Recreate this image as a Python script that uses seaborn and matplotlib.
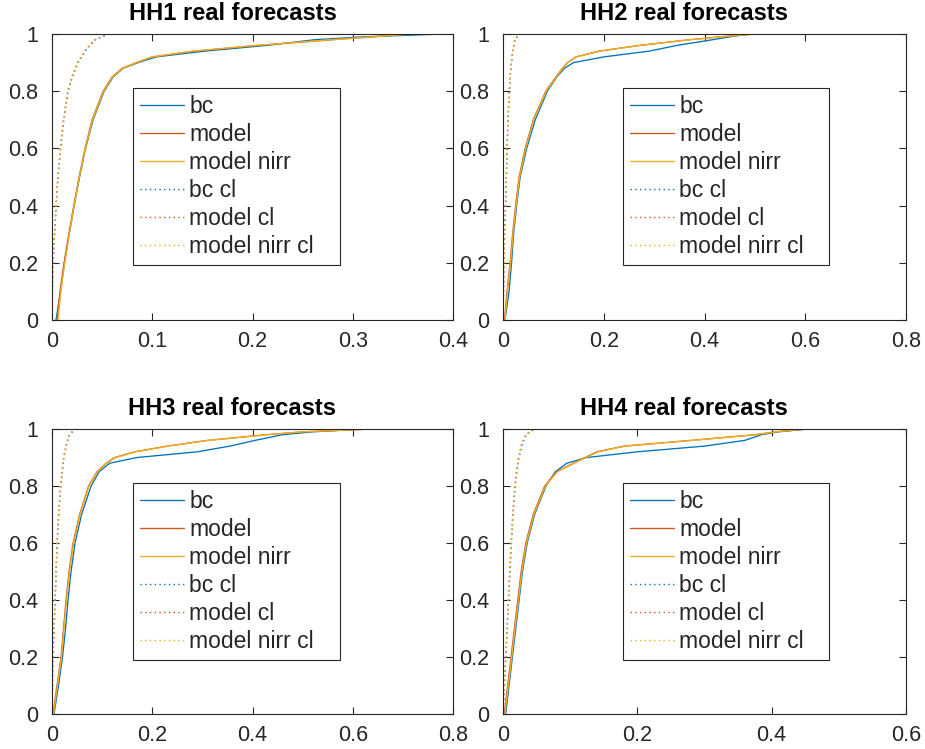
import matplotlib
matplotlib.use("Agg")
import matplotlib.pyplot as plt
import seaborn as sns
import pandas as pd

# ---------------- data ----------------
series_names = ["bc", "model", "model nirr", "bc cl", "model cl", "model nirr cl"]
titles = ["HH1 real forecasts", "HH2 real forecasts", "HH3 real forecasts", "HH4 real forecasts"]

# cumulative levels (shared by the solid curves of a panel) and dotted curves
y_solid = [0, 0.1, 0.2, 0.3, 0.4, 0.5, 0.6, 0.7, 0.8, 0.85, 0.88, 0.9, 0.92, 0.94, 0.96, 0.98, 0.99, 1.0, 1.0]
y_dot = [0, 0.1, 0.2, 0.3, 0.4, 0.5, 0.6, 0.7, 0.8, 0.85, 0.9, 0.95, 0.98, 1.0]

# HH1
hh1_bc = [0.004, 0.0085, 0.0125, 0.0172, 0.0222, 0.0275, 0.0335, 0.041, 0.052, 0.061, 0.071, 0.086, 0.104, 0.152, 0.214, 0.262, 0.31, 0.39, 0.39]
hh1_model = [0.005, 0.008, 0.012, 0.0167, 0.0217, 0.027, 0.033, 0.040, 0.051, 0.060, 0.070, 0.084, 0.100, 0.142, 0.205, 0.28, 0.32, 0.36, 0.37]
hh1_nirr = [0.006, 0.0088, 0.0127, 0.0172, 0.022, 0.0273, 0.0333, 0.0405, 0.0515, 0.0605, 0.0705, 0.0845, 0.100, 0.140, 0.203, 0.278, 0.32, 0.358, 0.368]
hh1_bc_cl = [0, 0.0003, 0.001, 0.0026, 0.0042, 0.006, 0.0087, 0.0118, 0.0162, 0.0203, 0.0262, 0.0352, 0.0435, 0.056]
hh1_model_cl = [0, 0.0003, 0.0009, 0.0025, 0.004, 0.0058, 0.0084, 0.0114, 0.0157, 0.0197, 0.0255, 0.0345, 0.043, 0.055]
hh1_nirr_cl = [0, 0.0004, 0.0010, 0.0025, 0.0041, 0.0059, 0.0085, 0.0115, 0.0158, 0.0198, 0.0256, 0.0346, 0.0432, 0.0555]

# HH2
hh2_bc = [0.004, 0.012, 0.017, 0.021, 0.027, 0.034, 0.047, 0.064, 0.088, 0.107, 0.122, 0.14, 0.20, 0.29, 0.345, 0.416, 0.45, 0.49, 0.49]
hh2_model = [0.003, 0.008, 0.014, 0.019, 0.025, 0.032, 0.044, 0.060, 0.085, 0.105, 0.118, 0.128, 0.145, 0.19, 0.27, 0.37, 0.43, 0.50, 0.62]
hh2_nirr = [0.004, 0.009, 0.015, 0.020, 0.026, 0.033, 0.045, 0.061, 0.086, 0.106, 0.119, 0.129, 0.146, 0.192, 0.272, 0.372, 0.432, 0.50, 0.62]
hh2_bc_cl = [0, 0.001, 0.002, 0.0032, 0.0052, 0.0068, 0.0083, 0.0101, 0.0128, 0.0143, 0.0168, 0.0205, 0.0245, 0.031]
hh2_model_cl = [0, 0.001, 0.002, 0.003, 0.005, 0.0065, 0.008, 0.0098, 0.0125, 0.014, 0.0165, 0.020, 0.024, 0.030]
hh2_nirr_cl = [0, 0.0011, 0.0021, 0.0031, 0.0051, 0.0066, 0.0081, 0.0099, 0.0126, 0.0141, 0.0166, 0.0202, 0.0242, 0.0302]

# HH3
hh3_bc = [0.004, 0.013, 0.021, 0.027, 0.032, 0.038, 0.046, 0.059, 0.078, 0.094, 0.115, 0.17, 0.29, 0.355, 0.405, 0.46, 0.52, 0.62, 0.62]
hh3_model = [0.002, 0.010, 0.018, 0.023, 0.028, 0.034, 0.042, 0.055, 0.073, 0.090, 0.108, 0.125, 0.165, 0.23, 0.31, 0.427, 0.50, 0.64, 0.707]
hh3_nirr = [0.003, 0.011, 0.019, 0.024, 0.029, 0.035, 0.043, 0.056, 0.074, 0.091, 0.109, 0.127, 0.167, 0.232, 0.312, 0.43, 0.50, 0.64, 0.70]
hh3_bc_cl = [0, 0.0009, 0.0017, 0.0042, 0.0063, 0.0083, 0.0104, 0.0135, 0.0176, 0.0206, 0.0237, 0.0298, 0.035, 0.046]
hh3_model_cl = [0, 0.0008, 0.0015, 0.004, 0.006, 0.008, 0.010, 0.013, 0.017, 0.020, 0.023, 0.029, 0.034, 0.045]
hh3_nirr_cl = [0, 0.0008, 0.0016, 0.0041, 0.0061, 0.0081, 0.0101, 0.0131, 0.0171, 0.0201, 0.0232, 0.0292, 0.0342, 0.0452]

# HH4
hh4_bc = [0.004, 0.009, 0.014, 0.019, 0.024, 0.029, 0.036, 0.047, 0.064, 0.078, 0.095, 0.125, 0.20, 0.30, 0.36, 0.385, 0.41, 0.455, 0.455]
hh4_model = [0.002, 0.007, 0.012, 0.017, 0.022, 0.027, 0.034, 0.045, 0.062, 0.080, 0.105, 0.122, 0.140, 0.18, 0.28, 0.375, 0.405, 0.45, 0.51]
hh4_nirr = [0.003, 0.008, 0.013, 0.018, 0.023, 0.028, 0.035, 0.046, 0.063, 0.081, 0.106, 0.123, 0.142, 0.182, 0.282, 0.377, 0.407, 0.45, 0.505]
hh4_bc_cl = [0, 0.0021, 0.0042, 0.0062, 0.0083, 0.0104, 0.0125, 0.0151, 0.0182, 0.0208, 0.0238, 0.029, 0.035, 0.047]
hh4_model_cl = [0, 0.002, 0.004, 0.006, 0.008, 0.010, 0.012, 0.0145, 0.0175, 0.020, 0.023, 0.028, 0.034, 0.046]
hh4_nirr_cl = [0, 0.002, 0.0041, 0.0061, 0.0081, 0.0101, 0.0121, 0.0147, 0.0177, 0.0202, 0.0232, 0.0282, 0.0342, 0.0462]

hh1_xticks = [0, 0.1, 0.2, 0.3, 0.4]
hh2_xticks = [0, 0.2, 0.4, 0.6, 0.8]
hh3_xticks = [0, 0.2, 0.4, 0.6, 0.8]
hh4_xticks = [0, 0.2, 0.4, 0.6]
yticks = [0, 0.2, 0.4, 0.6, 0.8, 1]

panels = [
    (hh1_bc, hh1_model, hh1_nirr, hh1_bc_cl, hh1_model_cl, hh1_nirr_cl, hh1_xticks),
    (hh2_bc, hh2_model, hh2_nirr, hh2_bc_cl, hh2_model_cl, hh2_nirr_cl, hh2_xticks),
    (hh3_bc, hh3_model, hh3_nirr, hh3_bc_cl, hh3_model_cl, hh3_nirr_cl, hh3_xticks),
    (hh4_bc, hh4_model, hh4_nirr, hh4_bc_cl, hh4_model_cl, hh4_nirr_cl, hh4_xticks),
]

# ---------------- style ----------------
sns.set_theme(style="white")
plt.rcParams["font.family"] = ["Liberation Sans", "DejaVu Sans"]
axc = "#262626"
colors = ["#0072BD", "#D95319", "#EDB120"]

fig = plt.figure(figsize=(9.25, 7.49), dpi=100)
W, H = 925.0, 749.0
boxes = [
    (52, 34, 453, 320),
    (503, 34, 906, 320),
    (52, 429, 453, 714),
    (503, 429, 906, 714),
]
leg_boxes = [(0.202, 0.516), (0.298, 0.511), (0.202, 0.516), (0.298, 0.511)]

for i, (box, pdata) in enumerate(zip(boxes, panels)):
    l, t, r, b = box
    ax = fig.add_axes([l / W, 1 - b / H, (r - l) / W, (b - t) / H])
    solids = pdata[:3]
    dots = pdata[3:6]
    xt = pdata[6]
    for k, xs in enumerate(solids):
        df = pd.DataFrame({"x": xs, "y": y_solid})
        sns.lineplot(data=df, x="x", y="y", ax=ax, color=colors[k], linewidth=0.95,
                     sort=False, estimator=None, label=series_names[k])
    for k, xs in enumerate(dots):
        df = pd.DataFrame({"x": xs, "y": y_dot})
        sns.lineplot(data=df, x="x", y="y", ax=ax, color=colors[k], linewidth=1.0,
                     linestyle=(0, (1, 2.4)), sort=False, estimator=None,
                     label=series_names[3 + k])
    ax.set_xlim(xt[0], xt[-1])
    ax.set_ylim(0, 1)
    ax.set_xticks(xt)
    ax.set_xticklabels([f"{v:g}" for v in xt])
    ax.set_yticks(yticks)
    ax.set_yticklabels([f"{v:g}" for v in yticks])
    ax.set_xlabel("")
    ax.set_ylabel("")
    ax.tick_params(axis="both", direction="in", length=5, width=0.8, color=axc,
                   labelsize=15.5, labelcolor=axc, top=True, right=True,
                   bottom=True, left=True)
    ax.tick_params(axis="x", pad=8)
    ax.tick_params(axis="y", pad=10)
    for sp in ax.spines.values():
        sp.set_color(axc)
        sp.set_linewidth(0.8)
        sp.set_visible(True)
    ax.set_title(titles[i], fontsize=17, fontweight="bold", color="black", pad=10, x=0.45)
    lx, lw = leg_boxes[i]
    leg = ax.legend(loc="upper left", bbox_to_anchor=(lx, 0.192, lw, 0.619),
                    mode="expand", borderaxespad=0, fontsize=16.5,
                    handlelength=1.9, handletextpad=0.25, labelspacing=0.22,
                    borderpad=0.31, fancybox=False, framealpha=1, frameon=True)
    leg.get_frame().set_edgecolor(axc)
    leg.get_frame().set_linewidth(0.8)

fig.savefig("out.png", dpi=100)
